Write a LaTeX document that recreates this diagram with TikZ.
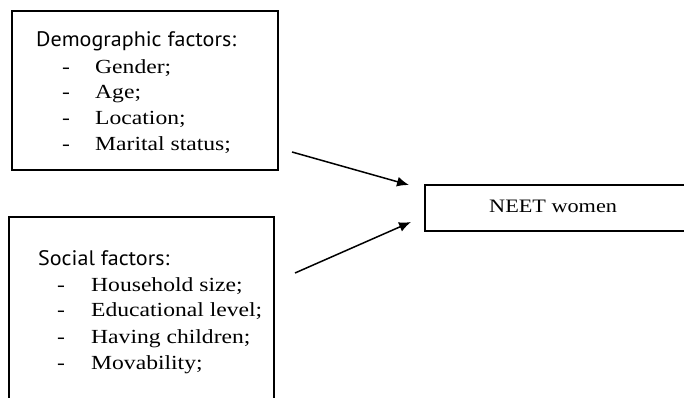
\documentclass[tikz,border=0pt]{standalone}
\usepackage{fontspec}
\setmainfont{Liberation Serif}[FakeStretch=1.18]
\newfontfamily\neetfont{Liberation Serif}[FakeStretch=1.17]
\newfontfamily\headfont{PT Sans}[FakeStretch=1.05]
\usetikzlibrary{arrows.meta}
\begin{document}
\begin{tikzpicture}[x=1pt,y=1pt,
  box/.style={draw,line width=2pt,inner sep=0pt},
  head/.style={anchor=base west,inner sep=0pt,font=\headfont\fontsize{21}{25}\selectfont},
  item/.style={anchor=base west,inner sep=0pt,font=\fontsize{20}{24}\selectfont},
  arr/.style={line width=1.5pt,-{Latex[length=12pt,width=10pt]}}]
\useasboundingbox (0,0) rectangle (684,398);
\begin{scope}
\clip (0,0) rectangle (684,398);
% boxes (y = 398 - pixel y)
\node[box,minimum width=266pt,minimum height=159pt] (demo) at (145,307.5) {};
\node[box,minimum width=265pt,minimum height=200pt] (soc) at (141.5,81) {};
\node[box,minimum width=280pt,minimum height=46pt] (neet) at (565,190) {};
\end{scope}
% demographic text
\node[head] (dh) at (36,351) {Demographic factors:};
\node[item] (d1d) at (62,324) {-};
\node[item] (d1) at (95,324) {Gender;};
\node[item] (d2d) at (62,299) {-};
\node[item] (d2) at (95,299) {Age;};
\node[item] (d3d) at (62,273) {-};
\node[item] (d3) at (95,273) {Location;};
\node[item] (d4d) at (62,247) {-};
\node[item] (d4) at (95,247) {Marital status;};
% social text
\node[head] (sh) at (38,132) {Social factors:};
\node[item] (s1d) at (57,106) {-};
\node[item] (s1) at (91,106) {Household size;};
\node[item] (s2d) at (57,81) {-};
\node[item] (s2) at (91,81) {Educational level;};
\node[item] (s3d) at (57,54) {-};
\node[item] (s3) at (91,54) {Having children;};
\node[item] (s4d) at (57,28) {-};
\node[item] (s4) at (91,28) {Movability;};
% neet text
\node[anchor=base west,inner sep=0pt,font=\neetfont\fontsize{19}{23}\selectfont] (nt) at (489,185) {NEET women};
% arrows
\coordinate (a1s) at (292,246);
\coordinate (a1e) at (409,213);
\coordinate (a2s) at (295,125);
\coordinate (a2e) at (411,176);
\draw[arr] (a1s) -- (a1e);
\draw[arr] (a2s) -- (a2e);
\end{tikzpicture}
\end{document}
